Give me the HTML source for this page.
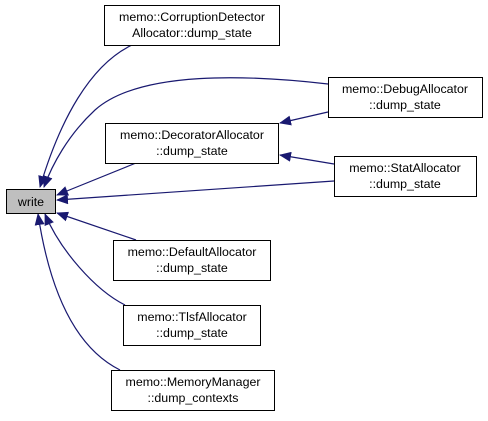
<!DOCTYPE html>
<html><head><style>
body{margin:0;background:#fff;}
svg text{font-family:"Liberation Sans",Arial,sans-serif;font-size:12.4px;text-anchor:middle;fill:#000;}
</style></head><body>
<svg width="488" height="416" viewBox="0 0 488 416" xmlns="http://www.w3.org/2000/svg">
<defs><marker id="a" markerWidth="12" markerHeight="10" refX="11" refY="5" orient="auto" markerUnits="userSpaceOnUse"><path d="M0,0 L12,5 L0,10 z" fill="#191970"/></marker></defs>
<g fill="none" stroke="#191970" stroke-width="1.2" marker-end="url(#a)">
<path d="M132,45 C90,65 60,120 40,187"/>
<path d="M328,84 C250,75 140,70 95,110 C68,135 52,165 44,187"/>
<path d="M136,163 L57,195"/>
<path d="M334,181 L57,200"/>
<path d="M328,112 L280,123"/>
<path d="M334,164 L280,155"/>
<path d="M136,240 L57,213"/>
<path d="M125,305 C95,290 60,250 45,214"/>
<path d="M120,370 C70,345 48,280 38,214"/>
</g>
<g stroke="#000" stroke-width="1" fill="#fff">
<rect x="6.5" y="189.5" width="49" height="24" fill="#bfbfbf"/>
<rect x="104.5" y="5.5" width="175" height="40"/>
<rect x="105.5" y="123.5" width="173" height="40"/>
<rect x="328.5" y="77.5" width="154" height="40"/>
<rect x="334.5" y="156.5" width="142" height="40"/>
<rect x="113.5" y="240.5" width="157" height="40"/>
<rect x="123.5" y="305.5" width="137" height="40"/>
<rect x="111.5" y="370.5" width="163" height="40"/>
</g>
<text x="31" y="206">write</text>
<text x="192" y="21">memo::CorruptionDetector</text><text x="192" y="37">Allocator::dump_state</text>
<text x="192" y="139">memo::DecoratorAllocator</text><text x="192" y="155">::dump_state</text>
<text x="405" y="93">memo::DebugAllocator</text><text x="405" y="109">::dump_state</text>
<text x="405" y="172">memo::StatAllocator</text><text x="405" y="188">::dump_state</text>
<text x="192" y="256">memo::DefaultAllocator</text><text x="192" y="272">::dump_state</text>
<text x="192" y="321">memo::TlsfAllocator</text><text x="192" y="337">::dump_state</text>
<text x="193" y="386">memo::MemoryManager</text><text x="193" y="402">::dump_contexts</text>
</svg>
</body></html>
